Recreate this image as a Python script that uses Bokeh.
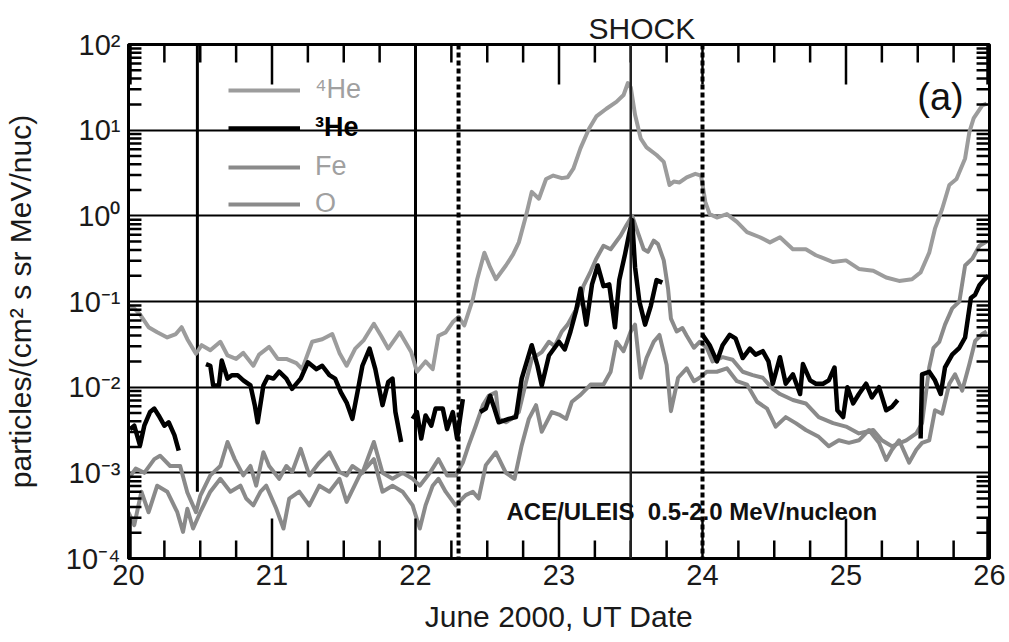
import numpy as np
from bokeh.plotting import figure
from bokeh.models import (ColumnDataSource, FixedTicker, LogTicker,
                          CustomJSTickFormatter, Label, Legend, LegendItem, Span)
from bokeh.embed import file_html
from bokeh.resources import INLINE

NaN = float("nan")

# ---------------- data (UT day in June 2000, log10 of intensity) ----------------
he4_day = [20.00, 20.04, 20.08, 20.14, 20.20, 20.27, 20.33, 20.37, 20.41, 20.47, 20.51, 20.57,
           20.64, 20.69, 20.75, 20.80, 20.87, 20.91, 20.98, 21.04, 21.10, 21.17, 21.21, 21.28,
           21.35, 21.42, 21.47, 21.52, 21.58, 21.64, 21.71, 21.76, 21.81, 21.89, 21.97, 22.01,
           22.07, 22.12, 22.16, 22.21, 22.26, 22.30, 22.34, 22.40, 22.43, 22.48, 22.52, 22.56,
           22.63, 22.68, 22.72, 22.77, 22.81, 22.86, 22.91, 22.96, 23.02, 23.06, 23.10, 23.15,
           23.21, 23.26, 23.33, 23.40, 23.45, 23.48, 23.50, 23.53, 23.57, 23.61, 23.68, 23.73,
           23.77, 23.80, 23.84, 23.89, 23.95, 23.99, 24.02, 24.05, 24.10, 24.17, 24.24, 24.31,
           24.40, 24.47, 24.54, 24.63, 24.72, 24.79, 24.85, 24.91, 25.00, 25.09, 25.19, 25.28,
           25.37, 25.46, 25.52, 25.58, 25.62, 25.67, 25.72, 25.77, 25.83, 25.86, 25.89, 25.95,
           25.98]
he4_log10 = [-1.05, -1.08, -1.15, -1.30, -1.36, -1.42, -1.38, -1.30, -1.44, -1.61, -1.51, -1.57,
             -1.47, -1.63, -1.67, -1.60, -1.75, -1.62, -1.53, -1.67, -1.67, -1.72, -1.79, -1.47,
             -1.44, -1.38, -1.60, -1.75, -1.55, -1.45, -1.26, -1.40, -1.55, -1.36, -1.59, -1.82,
             -1.70, -1.79, -1.40, -1.36, -1.24, -1.18, -1.28, -0.97, -0.74, -0.43, -0.60, -0.74,
             -0.58, -0.45, -0.31, 0.00, 0.28, 0.20, 0.43, 0.47, 0.44, 0.45, 0.55, 0.79,
             1.02, 1.16, 1.25, 1.33, 1.41, 1.55, 1.50, 1.18, 0.90, 0.80, 0.71, 0.63,
             0.36, 0.40, 0.39, 0.45, 0.49, 0.47, 0.16, 0.02, -0.02, 0.02, -0.07, -0.19,
             -0.25, -0.31, -0.25, -0.39, -0.39, -0.46, -0.50, -0.54, -0.52, -0.62, -0.64, -0.72,
             -0.76, -0.74, -0.66, -0.43, -0.15, 0.08, 0.36, 0.43, 0.67, 0.98, 1.14, 1.29,
             1.31]

he3_day = [20.01, 20.04, 20.08, 20.11, 20.15, 20.18, 20.21, 20.25, 20.28, 20.32, 20.35, 20.45,
           20.54, 20.57, 20.59, 20.63, 20.65, 20.69, 20.72, 20.76, 20.80, 20.85, 20.88, 20.90,
           20.94, 20.97, 21.01, 21.05, 21.10, 21.14, 21.20, 21.25, 21.31, 21.35, 21.40, 21.44,
           21.48, 21.52, 21.56, 21.60, 21.63, 21.68, 21.72, 21.77, 21.81, 21.84, 21.86, 21.90,
           21.94,
           21.98, 22.01, 22.04, 22.07, 22.11, 22.14, 22.19, 22.22, 22.26, 22.29, 22.33, 22.39,
           22.45, 22.49, 22.52, 22.55, 22.58, 22.65, 22.70, 22.74, 22.81, 22.85, 22.88, 22.93,
           23.00, 23.04, 23.08, 23.12, 23.15, 23.19, 23.23, 23.27, 23.31, 23.35, 23.39, 23.42,
           23.46, 23.49, 23.51, 23.53, 23.56, 23.60, 23.64, 23.68, 23.72, 23.85,
           24.00, 24.05, 24.10, 24.14, 24.19, 24.23, 24.28, 24.33, 24.37, 24.42, 24.46, 24.49,
           24.54, 24.58, 24.63, 24.68, 24.70, 24.75, 24.79, 24.84, 24.88, 24.92, 24.94, 24.98,
           25.01, 25.05, 25.09, 25.14, 25.18, 25.23, 25.28, 25.32, 25.36, 25.45,
           25.52, 25.53, 25.58, 25.62, 25.66, 25.69, 25.74, 25.79, 25.83, 25.87, 25.90, 25.93,
           25.96, 25.99]
he3_log10 = [-2.49, -2.45, -2.68, -2.45, -2.29, -2.25, -2.33, -2.45, -2.41, -2.56, -2.74, NaN,
             -1.73, -1.75, -1.98, -1.98, -1.69, -1.90, -1.86, -1.86, -1.92, -1.98, -2.21, -2.41,
             -1.98, -1.88, -1.90, -1.82, -1.90, -2.02, -1.90, -1.71, -1.79, -1.75, -1.86, -1.90,
             -2.06, -2.18, -2.37, -2.02, -1.75, -1.55, -1.79, -2.21, -1.94, -1.90, -2.29, -2.64,
             NaN,
             -2.37, -2.29, -2.60, -2.33, -2.45, -2.25, -2.25, -2.49, -2.29, -2.60, -2.14, NaN,
             -2.29, -2.25, -2.10, -2.25, -2.41, -2.37, -2.35, -1.90, -1.51, -1.75, -1.98, -1.63,
             -1.47, -1.56, -1.35, -1.10, -0.85, -1.27, -0.80, -0.58, -0.82, -0.80, -1.30, -0.75,
             -0.45, -0.20, -0.05, -0.60, -1.00, -1.27, -1.05, -0.75, -0.78, NaN,
             -1.39, -1.51, -1.70, -1.51, -1.39, -1.43, -1.66, -1.55, -1.62, -1.58, -1.70, -1.96,
             -1.65, -1.96, -1.85, -2.08, -1.73, -1.92, -1.96, -1.96, -1.92, -1.77, -2.27, -2.35,
             -2.00, -2.19, -2.08, -1.96, -2.12, -2.00, -2.27, -2.23, -2.15, NaN,
             -2.60, -1.85, -1.82, -1.92, -2.08, -1.77, -1.62, -1.54, -1.42, -0.96, -0.92, -0.81,
             -0.75, -0.70]

o_day = [20.00, 20.05, 20.11, 20.18, 20.22, 20.29, 20.36, 20.41, 20.47, 20.50, 20.57, 20.64,
         20.69, 20.74, 20.80, 20.85, 20.89, 20.94, 20.98, 21.05, 21.10, 21.14, 21.20, 21.26,
         21.33, 21.40, 21.47, 21.52, 21.56, 21.63, 21.71, 21.77, 21.84, 21.91, 21.98, 22.03,
         22.10, 22.16, 22.22, 22.28, 22.33, 22.37, 22.42, 22.47, 22.51, 22.56, 22.58, 22.63,
         22.67, 22.72, 22.77, 22.81, 22.88, 22.93, 22.97, 23.02, 23.06, 23.10, 23.15, 23.17,
         23.22, 23.26, 23.31, 23.36, 23.43, 23.47, 23.51, 23.54, 23.59, 23.62, 23.66, 23.69,
         23.73, 23.76, 23.78, 23.82, 23.86, 23.89, 23.94, 23.98, 24.03, 24.07, 24.14, 24.21,
         24.28, 24.35, 24.42, 24.49, 24.54, 24.63, 24.72, 24.81, 24.91, 25.00, 25.09, 25.19,
         25.25, 25.32, 25.42, 25.49, 25.53, 25.58, 25.61, 25.65, 25.69, 25.74, 25.79, 25.83,
         25.88, 25.93, 25.98]
o_log10 = [-3.07, -2.95, -3.00, -2.84, -2.80, -2.92, -2.92, -3.23, -3.46, -3.27, -3.03, -2.92,
           -2.64, -2.84, -3.03, -2.92, -3.15, -2.76, -2.92, -3.07, -2.92, -2.99, -2.72, -3.03,
           -2.88, -2.76, -2.99, -3.03, -2.92, -3.00, -2.64, -3.00, -3.07, -3.00, -3.07, -3.15,
           -3.00, -2.84, -3.03, -3.03, -2.88, -2.68, -2.45, -2.21, -2.10, -2.06, -2.37, -2.41,
           -2.37, -2.29, -1.94, -1.67, -1.59, -1.47, -1.52, -1.35, -1.27, -1.15, -1.00, -0.82,
           -0.65, -0.50, -0.35, -0.39, -0.23, -0.11, 0.00, -0.15, -0.39, -0.42, -0.29, -0.33,
           -0.52, -0.85, -1.20, -1.35, -1.31, -1.40, -1.54, -1.47, -1.54, -1.70, -1.65, -1.68,
           -1.82, -1.86, -1.89, -2.02, -2.08, -2.15, -2.19, -2.35, -2.42, -2.46, -2.54, -2.50,
           -2.62, -2.69, -2.62, -2.54, -2.42, -1.77, -1.54, -1.47, -1.27, -1.08, -1.00, -0.58,
           -0.50, -0.35, -0.30]

fe_day = [20.00, 20.04, 20.09, 20.14, 20.20, 20.27, 20.34, 20.38, 20.41, 20.45, 20.50, 20.57,
          20.64, 20.71, 20.78, 20.82, 20.87, 20.92, 20.96, 21.03, 21.08, 21.12, 21.19, 21.26,
          21.33, 21.40, 21.47, 21.52, 21.61, 21.71, 21.77, 21.84, 21.91, 21.98, 22.03, 22.07,
          22.12, 22.16, 22.21, 22.28, 22.35, 22.40, 22.44, 22.49, 22.56, 22.63, 22.69, 22.74,
          22.79, 22.84, 22.88, 22.95, 23.00, 23.05, 23.09, 23.15, 23.22, 23.31, 23.36, 23.40,
          23.45, 23.50, 23.53, 23.57, 23.61, 23.66, 23.70, 23.75, 23.78, 23.83, 23.89, 23.94,
          23.98, 24.03, 24.10, 24.17, 24.24, 24.31, 24.38, 24.45, 24.51, 24.58, 24.65, 24.72,
          24.81, 24.88, 24.95, 25.02, 25.09, 25.16, 25.23, 25.28, 25.32, 25.37, 25.44, 25.49,
          25.53, 25.58, 25.62, 25.67, 25.72, 25.76, 25.81, 25.86, 25.90, 25.95, 25.98]
fe_log10 = [-3.46, -3.61, -3.22, -3.46, -3.15, -3.22, -3.46, -3.69, -3.42, -3.65, -3.46, -3.22,
            -3.07, -3.22, -3.15, -3.30, -3.38, -3.22, -3.15, -3.42, -3.65, -3.30, -3.22, -3.38,
            -3.15, -3.22, -3.07, -3.34, -3.03, -2.84, -3.22, -3.15, -3.22, -3.38, -3.65, -3.38,
            -3.15, -3.07, -3.22, -3.38, -3.26, -3.22, -3.30, -2.91, -2.76, -3.00, -3.07, -2.68,
            -2.37, -2.21, -2.52, -2.29, -2.32, -2.37, -2.17, -2.09, -1.97, -1.97, -1.82, -1.47,
            -1.58, -1.35, -1.27, -1.89, -1.66, -1.47, -1.39, -1.74, -2.28, -1.89, -1.78, -1.93,
            -1.89, -1.82, -1.82, -1.78, -1.93, -1.97, -2.17, -2.25, -2.46, -2.35, -2.42, -2.50,
            -2.58, -2.69, -2.62, -2.65, -2.62, -2.50, -2.65, -2.85, -2.73, -2.62, -2.88, -2.73,
            -2.65, -2.62, -2.27, -2.31, -1.96, -1.85, -2.04, -1.73, -1.46, -1.38, -1.35]

# ticks
x_major_ticks = [20, 21, 22, 23, 24, 25, 26]
x_minor_ticks = [20.25, 20.5, 20.75, 21.25, 21.5, 21.75, 22.25, 22.5, 22.75,
                 23.25, 23.5, 23.75, 24.25, 24.5, 24.75, 25.25, 25.5, 25.75]
y_decades = [-4, -3, -2, -1, 0, 1]
y_mantissas = [2, 3, 4, 5, 6, 7, 8, 9]
y_minor_ticks = [m * 10.0 ** e for e in y_decades for m in y_mantissas]

# event markers (UT day)
solid_event_days = [20.48, 22.0]
solid_event_floor = 6e-4
shock_day = 23.5
dashed_event_days = [22.3, 24.0]

X0, X1 = 20, 26
Y0, Y1 = 1e-4, 1e2

# page layout (px)
W, H = 1009, 642
B_LEFT, B_RIGHT, B_TOP, B_BOTTOM = 125, 20, 44, 84
FRAME_W = W - B_LEFT - B_RIGHT
FRAME_H = H - B_TOP - B_BOTTOM

FONT = "Liberation Sans"
GRAY_HE4 = "#9c9c9c"
GRAY_HEAVY = "#8a8a8a"
TXT = "#1a1a1a"

src_he4 = ColumnDataSource(dict(x=he4_day, y=[10 ** v for v in he4_log10]))
src_he3 = ColumnDataSource(dict(x=np.array(he3_day), y=np.power(10.0, np.array(he3_log10))))
src_fe = ColumnDataSource(dict(x=fe_day, y=[10 ** v for v in fe_log10]))
src_o = ColumnDataSource(dict(x=o_day, y=[10 ** v for v in o_log10]))

p = figure(width=W, height=H, x_range=(X0, X1), y_range=(Y0, Y1),
           y_axis_type="log", output_backend="svg", toolbar_location=None,
           min_border_left=B_LEFT, min_border_right=B_RIGHT, min_border_top=B_TOP,
           min_border_bottom=B_BOTTOM,
           background_fill_color="white", border_fill_color="white")

p.outline_line_color = "black"
p.outline_line_width = 3

# title used for the SHOCK marker label
p.title.text = "SHOCK"
p.title.align = "left"
p.title.offset = 460
p.title.standoff = 0
p.title.text_font = FONT
p.title.text_font_size = "30px"
p.title.text_font_style = "normal"
p.title.text_color = TXT

# grid: horizontal decade lines only
p.xgrid.grid_line_color = None
p.ygrid.grid_line_color = "black"
p.ygrid.grid_line_width = 2
p.ygrid.grid_line_alpha = 1

# bottom axis
xax = p.xaxis[0]
xax.ticker = FixedTicker(ticks=x_major_ticks, minor_ticks=x_minor_ticks)
xax.major_tick_in = 0
xax.major_tick_out = 0
xax.minor_tick_in = 0
xax.minor_tick_out = 0
xax.axis_line_width = 3
xax.major_label_text_font = FONT
xax.major_label_text_font_size = "29px"
xax.major_label_text_color = TXT
xax.major_label_standoff = 6
xax.axis_label = "June 2000, UT Date"
xax.axis_label_text_font = FONT
xax.axis_label_text_font_size = "30px"
xax.axis_label_text_font_style = "normal"
xax.axis_label_text_color = TXT
xax.axis_label_standoff = 12

sup_code = """
const sup = {'-':'\u207b','0':'\u2070','1':'\u00b9','2':'\u00b2','3':'\u00b3','4':'\u2074',
             '5':'\u2075','6':'\u2076','7':'\u2077','8':'\u2078','9':'\u2079'};
const e = Math.round(Math.log10(tick));
return '10' + String(e).split('').map(c => sup[c]).join('');
"""

yax = p.yaxis[0]
yax.ticker = LogTicker(desired_num_ticks=6, mantissas=[1], num_minor_ticks=0)
yax.formatter = CustomJSTickFormatter(code=sup_code)
yax.major_tick_in = 0
yax.major_tick_out = 0
yax.minor_tick_in = 0
yax.minor_tick_out = 0
yax.axis_line_width = 3
yax.major_label_text_font = FONT
yax.major_label_text_font_size = "29px"
yax.major_label_text_color = TXT
yax.major_label_standoff = 8
yax.axis_label = "particles/(cm\u00b2 s sr MeV/nuc)"
yax.axis_label_text_font = FONT
yax.axis_label_text_font_size = "30px"
yax.axis_label_text_font_style = "normal"
yax.axis_label_text_color = TXT
yax.axis_label_standoff = 26

# event lines
p.segment(x0=solid_event_days, x1=solid_event_days,
          y0=[solid_event_floor] * len(solid_event_days), y1=[Y1] * len(solid_event_days),
          line_color="black", line_width=3)
p.add_layout(Span(location=shock_day, dimension="height", line_color="#222222", line_width=2.5))
for d in dashed_event_days:
    p.add_layout(Span(location=d, dimension="height", line_color="black", line_width=4,
                      line_dash="5 3"))

# data
r_he4 = p.line("x", "y", source=src_he4, line_color=GRAY_HE4, line_width=4, line_join="round")
r_o = p.line("x", "y", source=src_o, line_color=GRAY_HEAVY, line_width=4, line_join="round")
r_fe = p.line("x", "y", source=src_fe, line_color=GRAY_HEAVY, line_width=4, line_join="round")
r_he3 = p.line("x", "y", source=src_he3, line_color="black", line_width=4.5, line_join="round")

# inward tick marks as a multi_line; pixel lengths converted to data extents, each mark
# starting 1 px inside the frame edge
MAJ_LEN, MIN_LEN, Y_LEN, INSET = 40, 18, 13, 1.0
dec_per_px = float(np.log10(Y1 / Y0)) / FRAME_H
day_per_px = (X1 - X0) / FRAME_W
tick_xs, tick_ys = [], []
for ticks, length in ((x_major_ticks, MAJ_LEN), (x_minor_ticks, MIN_LEN)):
    for t in ticks:
        t = min(max(float(t), X0 + 2 * day_per_px), X1 - 2 * day_per_px)
        for lo, hi in ((INSET, length), (FRAME_H - length, FRAME_H - INSET)):
            tick_xs.append([t, t])
            tick_ys.append([Y0 * 10 ** (lo * dec_per_px), Y0 * 10 ** (hi * dec_per_px)])
for t in y_minor_ticks:
    for lo, hi in ((INSET, Y_LEN), (FRAME_W - Y_LEN, FRAME_W - INSET)):
        tick_xs.append([X0 + lo * day_per_px, X0 + hi * day_per_px])
        tick_ys.append([t, t])
p.multi_line(xs=tick_xs, ys=tick_ys, line_color="black", line_width=2.5)

# legends (one per entry so that each label can keep its own colour)
leg_specs = [("\u2074He", r_he4, "#a0a0a0", "normal", 453),
             ("\u00b3He", r_he3, "black", "bold", 415),
             ("Fe", r_fe, "#a0a0a0", "normal", 376),
             ("O", r_o, "#a0a0a0", "normal", 339)]
for label, rend, col, style, ypos in leg_specs:
    lg = Legend(items=[LegendItem(label=label, renderers=[rend])], location=(100, ypos),
                glyph_width=72, glyph_height=30, label_height=30, label_standoff=15,
                padding=0, margin=0, spacing=0, border_line_color=None,
                background_fill_alpha=0, label_text_font=FONT, label_text_font_size="27px",
                label_text_color=col, label_text_font_style=style)
    p.add_layout(lg)

# annotations
p.add_layout(Label(x=812, y=462, x_units="screen", y_units="screen", text="(a)",
                   text_align="center", text_baseline="middle", text_font=FONT,
                   text_font_size="38px", text_color="#111111"))
p.add_layout(Label(x=378, y=47, x_units="screen", y_units="screen",
                   text="ACE/ULEIS\u00a0 0.5-2.0 MeV/nucleon",
                   text_align="left", text_baseline="middle", text_font=FONT,
                   text_font_size="24px", text_font_style="bold", text_color="#111111"))

open("out.html", "w").write(file_html(p, INLINE))
